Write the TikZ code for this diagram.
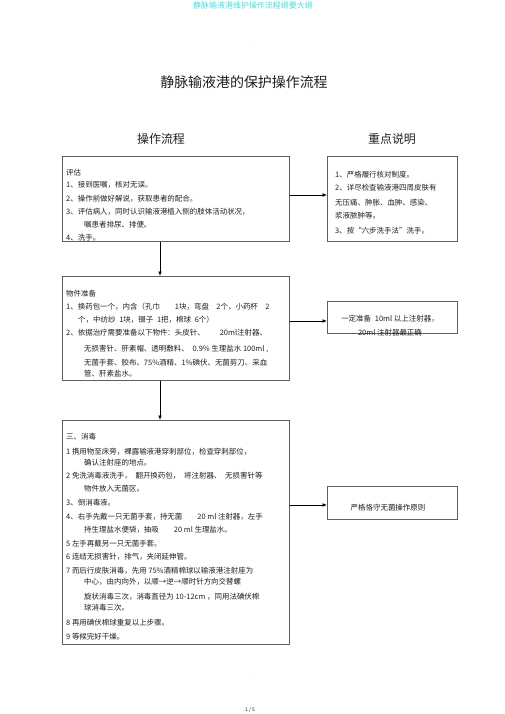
\documentclass[tikz,border=0pt]{standalone}
\usepackage{fontspec}
\setmainfont{Noto Sans CJK SC}
\usepackage{tikz}
\definecolor{headcyan}{RGB}{70, 220, 225}
\definecolor{boxgray}{RGB}{95, 95, 95}
\definecolor{inkgray}{RGB}{30, 30, 30}
\usetikzlibrary{arrows.meta, positioning, calc}

\begin{document}
\begin{tikzpicture}[x=1bp, y=-1bp,
    flowbox/.style={draw=boxgray, line width=1bp, inner sep=0pt, anchor=north west},
    bodytext/.style={text=inkgray, inner sep=0pt, anchor=north west, align=left,
                     font=\fontsize{7.5}{13}\selectfont},
    link/.style={-{Latex[length=4.5bp, width=4bp]}, line width=0.9bp, black}
]
    \useasboundingbox (0,0) rectangle (505,714);

    % page header and title
    \node[text=headcyan, font=\fontsize{8}{9}\selectfont] (head) at (253,5) {静脉输液港维护操作流程纲要大纲};
    \node[text=headcyan, font=\fontsize{5}{6}\selectfont] (dot1) at (250,46) {.};
    \node[text=inkgray, font=\fontsize{14}{16}\selectfont] (title) at (244,82) {静脉输液港的保护操作流程};
    \node[text=inkgray, font=\fontsize{12}{14}\selectfont] (lhead) at (161,139) {操作流程};
    \node[text=inkgray, font=\fontsize{12}{14}\selectfont] (rhead) at (392,139) {重点说明};

    % left column: steps
    \node[flowbox, minimum width=227bp, minimum height=85bp] (b1) at (62,156) {};
    \node[bodytext] (t1) at (66,169.5) {
        评估\\[-1pt]
        1、接到医嘱，核对无误。\\[1pt]
        2、操作前做好解说，获取患者的配合。\\
        3、评估病人，同时认识输液港植入侧的肢体活动状况，\\
        \hspace*{18bp}嘱患者排尿、排便。\\
        4、洗手。
    };

    \node[flowbox, minimum width=227bp, minimum height=104bp] (b2) at (62,276) {};
    \node[bodytext] (t2) at (66,289.5) {
        物件准备\\[1pt]
        1、换药包一个，内含（孔巾\qquad 1块，弯盘\quad 2个，小药杯\quad 2\\
        \hspace*{12bp}个，中纺纱\enspace 1块，镊子\enspace 1把，棉球\enspace 6个）\\
        2、依据治疗需要准备以下物件：头皮针、\qquad 20ml注射器、\\[3pt]
        \hspace*{18bp}无损害针、肝素帽、透明敷料、\enspace 0.9\% 生理盐水 100ml ,\\[1pt]
        \hspace*{18bp}无菌手套、胶布、75\%酒精、1\%碘伏、无菌剪刀、采血\\[-2pt]
        \hspace*{18bp}管、肝素盐水。
    };

    \node[flowbox, minimum width=227bp, minimum height=224bp] (b3) at (62,420) {};
    \node[bodytext] (t3) at (66,433.5) {
        三、消毒\\[2pt]
        1 携用物至床旁，裸露输液港穿刺部位，检查穿刺部位，\\[-2pt]
        \hspace*{18bp}确认注射座的地点。\\
        2 免洗消毒液洗手，\enspace 翻开换药包，\enspace 将注射器、\enspace 无损害针等\\
        \hspace*{18bp}物件放入无菌区。\\[1pt]
        3、倒消毒液。\\[1pt]
        4、右手先戴一只无菌手套，持无菌\qquad 20 ml 注射器，左手\\
        \hspace*{18bp}持生理盐水便袋，抽吸\qquad 20 ml 生理盐水。\\[1pt]
        5 左手再戴另一只无菌手套。\\
        6 连结无损害针，排气，夹闭延伸管。\\[1pt]
        7 而后行皮肤消毒，先用 75\%酒精棉球以输液港注射座为\\[-2pt]
        \hspace*{18bp}中心，由内向外，以顺→逆→顺时针方向交替螺\\[2pt]
        \hspace*{18bp}旋状消毒三次，消毒直径为 10-12cm ，同用法碘伏棉\\[-2pt]
        \hspace*{18bp}球消毒三次。\\[2pt]
        8 再用碘伏棉球重复以上步骤。\\[1pt]
        9 等候完好干燥。
    };

    % right column: notes
    \node[flowbox, minimum width=130bp, minimum height=85bp] (n1) at (327,156) {};
    \node[bodytext] (m1) at (335,170.5) {
        1、严格履行核对制度。\\[1pt]
        2、详尽检查输液港四周皮肤有\\[2pt]
        无压痛、肿胀、血肿、感染、\\
        浆液脓肿等。\\[2pt]
        3、按“六步洗手法”洗手。
    };

    \node[flowbox, minimum width=130bp, minimum height=32bp] (n2) at (327,301) {};
    \node[bodytext, anchor=north, align=center] (m2) at (390,314.5) {
        一定准备\enspace 10ml 以上注射器，\\[2pt]
        20ml 注射器最正确
    };

    \node[flowbox, minimum width=130bp, minimum height=33bp] (n3) at (327,486) {};
    \node[bodytext, anchor=center] (m3) at (388,508) {严格恪守无菌操作原则};

    % connectors
    \coordinate (down) at (160,0);
    \coordinate (side1) at (0,195);
    \coordinate (side2) at (0,321);
    \coordinate (side3) at (0,505);
    \draw[link] (b1.south -| down) -- (b2.north -| down);
    \draw[link] (b2.south -| down) -- (b3.north -| down);
    \draw[link] (b1.east |- side1) -- (n1.west |- side1);
    \draw[link] (b2.east |- side2) -- (n2.west |- side2);
    \draw[link] (b3.east |- side3) -- (n3.west |- side3);

    % footer
    \node[text=gray, font=\fontsize{5}{6}\selectfont] (dot2) at (252,676) {.};
    \node[text=inkgray, font=\fontsize{5}{6}\selectfont] (page) at (250,710) {1 / 5};
\end{tikzpicture}
\end{document}
